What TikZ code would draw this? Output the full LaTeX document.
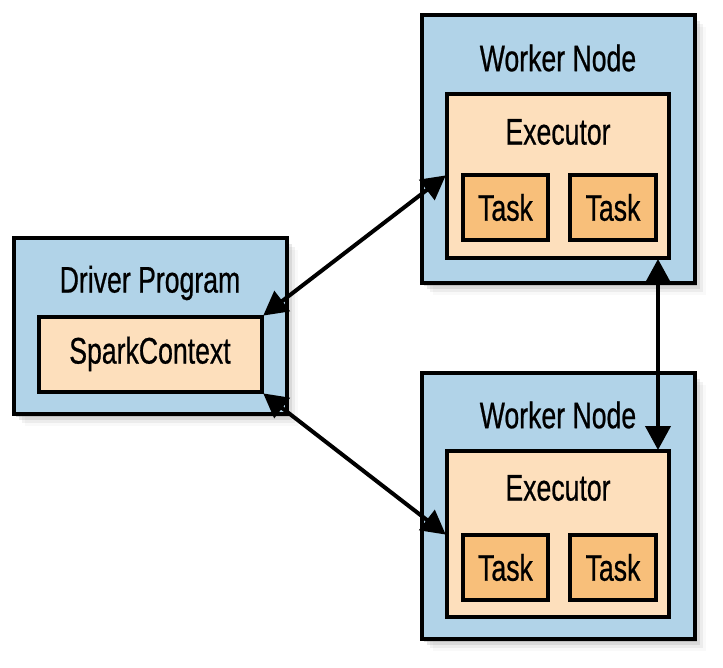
\documentclass[tikz,border=0pt]{standalone}
\usepackage{fontspec}
\setmainfont{Liberation Sans}[FakeStretch=0.72,FakeBold=0.6]
\usetikzlibrary{arrows.meta,shadows,calc}
\definecolor{wblue}{RGB}{177,211,232}
\definecolor{peach}{RGB}{253,223,188}
\definecolor{taskor}{RGB}{248,191,122}
\begin{document}
\begin{tikzpicture}[x=1pt,y=-1pt,
  box/.style={draw=black,line width=4pt,inner sep=0pt,rectangle},
  outerbox/.style={box,fill=wblue,
    drop shadow={shadow xshift=2pt,shadow yshift=-3pt,opacity=.30},
    drop shadow={shadow xshift=5pt,shadow yshift=-6pt,opacity=.18},
    drop shadow={shadow xshift=8pt,shadow yshift=-9pt,opacity=.10},
    drop shadow={shadow xshift=11pt,shadow yshift=-12pt,opacity=.05}},
  execbox/.style={box,fill=peach},
  taskbox/.style={box,fill=taskor},
  lbl/.style={inner sep=0pt,font=\fontsize{37}{42}\selectfont},
  conn/.style={line width=4pt,{Triangle[length=24pt,width=25pt]}-{Triangle[length=24pt,width=25pt]},shorten <=-1pt,shorten >=-1pt}
]
\useasboundingbox (0,0) rectangle (723,668);
% Driver
\node[outerbox,minimum width=273pt,minimum height=176pt] (drv) at (150.5,326) {};
\node[lbl] (drvl) at (150,283) {Driver Program};
\node[execbox,minimum width=223pt,minimum height=75pt] (sc) at (150.5,354.5) {};
\node[lbl] (scl) at (150,354) {SparkContext};
% Worker 1
\node[outerbox,minimum width=273pt,minimum height=268pt] (w1) at (558.5,149) {};
\node[lbl] (w1l) at (558,58) {Worker Node};
\node[execbox,minimum width=222pt,minimum height=164pt] (ex1) at (558,176) {};
\node[lbl] (ex1l) at (558,132) {Executor};
\node[taskbox,minimum width=85pt,minimum height=65pt] (t11) at (505.5,207.5) {};
\node[lbl] (t11l) at (505.5,207.5) {Task};
\node[taskbox,minimum width=86pt,minimum height=65pt] (t12) at (613,207.5) {};
\node[lbl] (t12l) at (613,207.5) {Task};
% Worker 2
\node[outerbox,minimum width=273pt,minimum height=266pt] (w2) at (558.5,506) {};
\node[lbl] (w2l) at (558,415) {Worker Node};
\node[execbox,minimum width=222pt,minimum height=166pt] (ex2) at (558,534) {};
\node[lbl] (ex2l) at (558,488) {Executor};
\node[taskbox,minimum width=85pt,minimum height=65pt] (t21) at (505.5,567.5) {};
\node[lbl] (t21l) at (505.5,567.5) {Task};
\node[taskbox,minimum width=86pt,minimum height=65pt] (t22) at (613,567.5) {};
\node[lbl] (t22l) at (613,567.5) {Task};
% Connectors
\draw[conn] (sc.north east) -- (ex1.west);
\draw[conn] (sc.south east) -- (ex2.west);
\draw[conn] (ex1.south -| t12.east) -- (ex2.north -| t12.east);
\end{tikzpicture}
\end{document}
